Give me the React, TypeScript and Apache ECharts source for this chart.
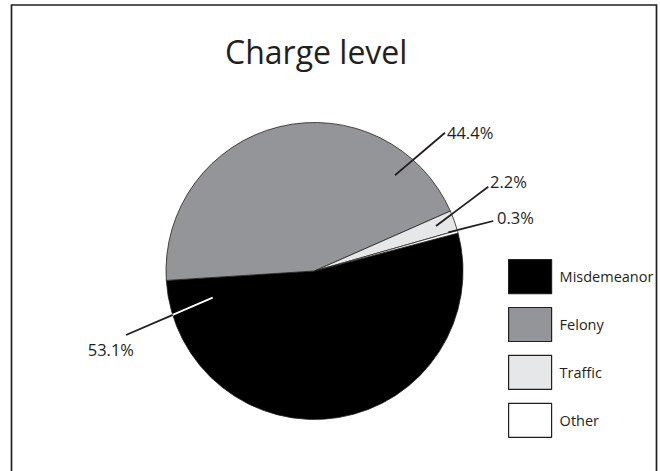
import React, { useEffect, useRef } from 'react';
import * as echarts from 'echarts';

const titleText = 'Charge level';
const categories = ['Misdemeanor', 'Felony', 'Traffic', 'Other'];
const shares = [53.1, 44.4, 2.2, 0.3];
const valueLabels = ['53.1%', '44.4%', '2.2%', '0.3%'];
const sliceColors = ['#000000', '#939598', '#e6e7e8', '#ffffff'];

// layout constants (pixels)
const CX = 314.5;
const CY = 271;
const R = 148.5;
const START_ANGLE = 14.8;
// label-line geometry, offsets from pie centre
const lineStarts = [[-101.8, 26.7], [80.5, -95.7], [121.5, -45], [133.8, -38.7]];
const lineEnds = [[-188.5, 64], [130.5, -138.3], [173.8, -84.3], [178.8, -50]];
const labelAnchors = [[-180.5, 78], [132.5, -139], [175.5, -89.5], [182.5, -53.5]];
const labelAligns = ['right', 'left', 'left', 'left'];
const FONT = "'Open Sans', 'Noto Sans', sans-serif";
const INK = '#231f20';
const innerLineColors = ['#ffffff', INK, INK, INK];

function edgePoint(s: number[], e: number[]) {
  const dx = e[0] - s[0];
  const dy = e[1] - s[1];
  const a = dx * dx + dy * dy;
  const b = 2 * (s[0] * dx + s[1] * dy);
  const c = s[0] * s[0] + s[1] * s[1] - R * R;
  const t = (-b + Math.sqrt(b * b - 4 * a * c)) / (2 * a);
  return [s[0] + t * dx, s[1] + t * dy];
}

export default function App() {
  const ref = useRef<HTMLDivElement>(null);
  useEffect(() => {
    if (!ref.current) return;
    const chart = echarts.init(ref.current, null, { renderer: 'svg' });
    const innerLines: any[] = innerLineColors.map((col, i) => {
      const s = lineStarts[i];
      const p = edgePoint(s, lineEnds[i]);
      return {
        type: 'line',
        z: 50,
        silent: true,
        shape: { x1: CX + s[0], y1: CY + s[1], x2: CX + p[0], y2: CY + p[1] },
        style: { stroke: col, lineWidth: 1.8 },
      };
    });
    chart.setOption({
      animation: false,
      backgroundColor: '#ffffff',
      title: {
        text: titleText,
        left: 220,
        top: 30,
        textStyle: { fontFamily: FONT, fontSize: 32, fontWeight: 'normal', color: INK },
      },
      legend: {
        orient: 'vertical',
        left: 508,
        top: 259,
        padding: 0,
        icon: 'rect',
        itemWidth: 43,
        itemHeight: 34,
        itemGap: 12.7,
        data: categories,
        itemStyle: { borderColor: INK, borderWidth: 1.2 },
        textStyle: { fontFamily: FONT, fontSize: 14.5, color: INK, padding: [0, 0, 0, 3] },
      },
      graphic: [
        {
          type: 'rect',
          z: 60,
          silent: true,
          shape: { x: 11.5, y: 5, width: 645, height: 500 },
          style: { fill: 'none', stroke: INK, lineWidth: 1.7 },
        },
        ...innerLines,
      ],
      series: [
        {
          type: 'pie',
          center: [CX, CY],
          radius: [0, R],
          startAngle: START_ANGLE,
          clockwise: true,
          avoidLabelOverlap: false,
          emphasis: { disabled: true },
          itemStyle: { borderColor: INK, borderWidth: 0.8 },
          label: {
            show: true,
            position: 'outside',
            fontFamily: FONT,
            fontSize: 16.5,
            color: INK,
            formatter: (p: any) => valueLabels[p.dataIndex],
          },
          labelLine: { show: true, lineStyle: { color: INK, width: 1.8 } },
          labelLayout: (params: any) => {
            const i = params.dataIndex;
            const s = lineStarts[i];
            const e = lineEnds[i];
            const a = labelAnchors[i];
            return {
              x: CX + a[0],
              y: CY + a[1],
              align: labelAligns[i],
              verticalAlign: 'middle',
              labelLinePoints: [
                [CX + s[0], CY + s[1]],
                [CX + (s[0] + e[0]) / 2, CY + (s[1] + e[1]) / 2],
                [CX + e[0], CY + e[1]],
              ],
            };
          },
          data: categories.map((name, i) => ({
            name,
            value: shares[i],
            itemStyle: { color: sliceColors[i] },
          })),
        },
      ],
    });
    return () => chart.dispose();
  }, []);
  return (
    <div
      ref={ref}
      style={{ position: 'fixed', left: 0, top: 0, width: 660, height: 471 }}
    />
  );
}
